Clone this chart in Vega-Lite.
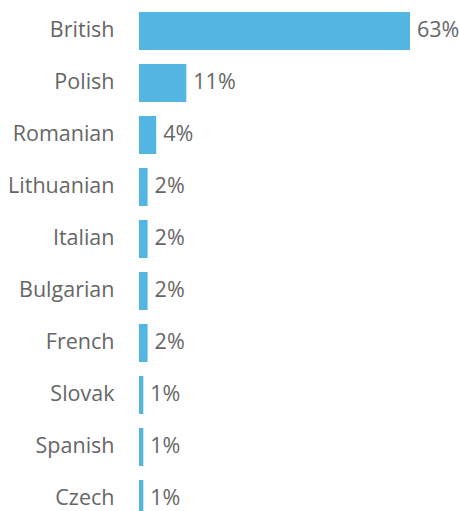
{
  "$schema": "https://vega.github.io/schema/vega-lite/v6.json",
  "width": 271,
  "height": 520,
  "autosize": {"type": "none"},
  "padding": {"left": 139, "top": 5, "right": 49, "bottom": 0},
  "background": "white",
  "config": {"view": {"stroke": null}},
  "data": {"values": [
    {"nationality": "British", "value": 63, "label": "63%"},
    {"nationality": "Polish", "value": 11, "label": "11%"},
    {"nationality": "Romanian", "value": 4, "label": "4%"},
    {"nationality": "Lithuanian", "value": 2, "label": "2%"},
    {"nationality": "Italian", "value": 2, "label": "2%"},
    {"nationality": "Bulgarian", "value": 2, "label": "2%"},
    {"nationality": "French", "value": 2, "label": "2%"},
    {"nationality": "Slovak", "value": 1, "label": "1%"},
    {"nationality": "Spanish", "value": 1, "label": "1%"},
    {"nationality": "Czech", "value": 1, "label": "1%"}
  ]},
  "encoding": {
    "y": {
      "field": "nationality", "type": "nominal", "sort": null,
      "scale": {"paddingInner": 0.27, "paddingOuter": 0.135},
      "axis": {"title": null, "domain": false, "ticks": false, "labelPadding": 25,
               "labelFont": "Open Sans", "labelFontSize": 21.5, "labelColor": "#666666", "labelLimit": 200}
    },
    "x": {
      "field": "value", "type": "quantitative",
      "scale": {"domain": [0, 63], "nice": false},
      "axis": null
    }
  },
  "layer": [
    {"mark": {"type": "bar", "color": "#52b5e2"}},
    {"mark": {"type": "text", "align": "left", "baseline": "middle", "dx": 7,
              "font": "Open Sans", "fontSize": 21.5, "color": "#666666"},
     "encoding": {"text": {"field": "label"}}}
  ]
}
